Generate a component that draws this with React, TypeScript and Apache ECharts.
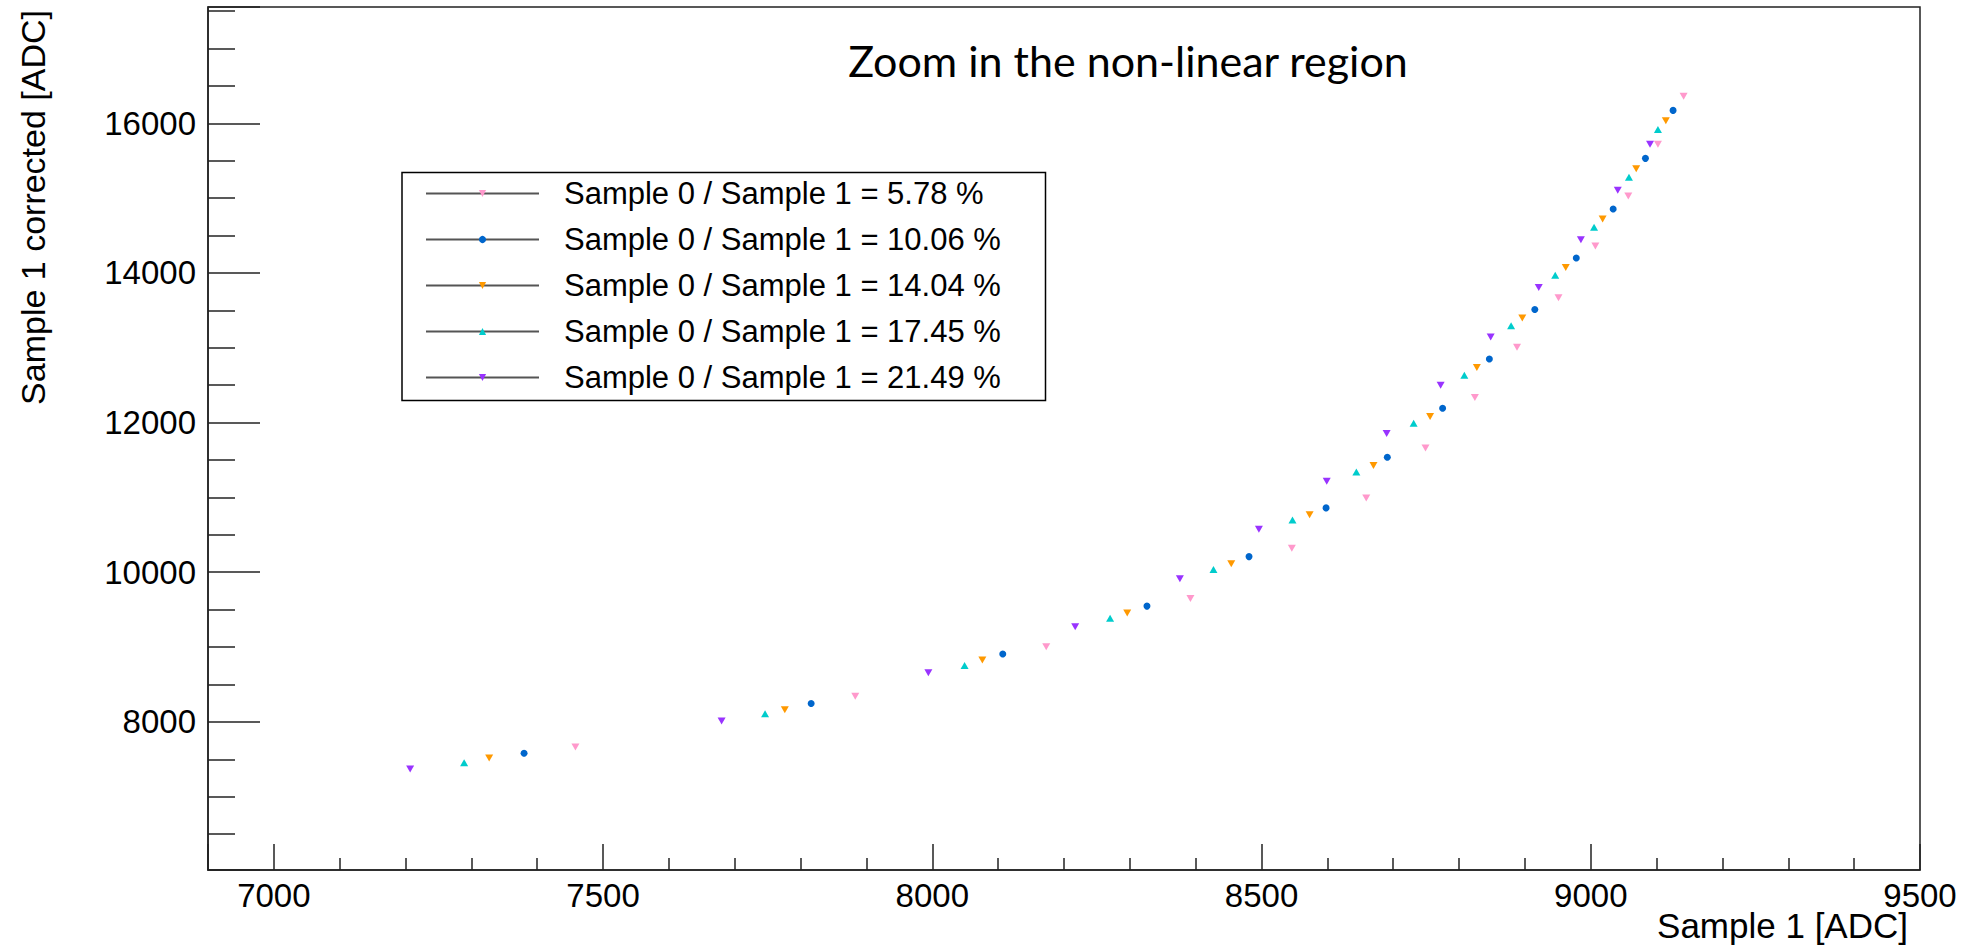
import React, { useEffect, useRef } from "react";
import * as echarts from "echarts";

// Legend entries and marker colours, one per ratio
const seriesNames = [
  "Sample 0 / Sample 1 = 5.78 %",
  "Sample 0 / Sample 1 = 10.06 %",
  "Sample 0 / Sample 1 = 14.04 %",
  "Sample 0 / Sample 1 = 17.45 %",
  "Sample 0 / Sample 1 = 21.49 %",
];
const seriesColors = ["#ff99cc", "#0066cc", "#ff9900", "#00cccc", "#9933ff"];

// Sample 1 [ADC] (x) and corrected Sample 1 [ADC] (y) for each ratio
const ratio578X = [7458, 7883, 8173, 8392, 8546, 8659, 8749, 8824, 8888, 8951, 9007, 9057, 9102, 9141];
const ratio578Y = [7665, 8344, 9003, 9649, 10321, 10993, 11660, 12334, 13008, 13670, 14360, 15030, 15720, 16362];

const ratio1006X = [7380, 7816, 8107, 8326, 8481, 8598, 8691, 8775, 8846, 8915, 8978, 9034, 9083, 9125];
const ratio1006Y = [7580, 8246, 8906, 9547, 10209, 10860, 11537, 12193, 12851, 13511, 14200, 14855, 15532, 16173];

const ratio1404X = [7327, 7776, 8076, 8296, 8454, 8573, 8670, 8756, 8827, 8896, 8962, 9018, 9069, 9114];
const ratio1404Y = [7518, 8161, 8828, 9456, 10112, 10769, 11425, 12081, 12737, 13397, 14074, 14723, 15392, 16033];

const ratio1745X = [7289, 7746, 8049, 8270, 8427, 8547, 8644, 8731, 8808, 8879, 8946, 9005, 9058, 9102];
const ratio1745Y = [7455, 8107, 8754, 9384, 10036, 10697, 11339, 11993, 12634, 13296, 13970, 14612, 15281, 15916];

const ratio2149X = [7207, 7680, 7994, 8217, 8376, 8496, 8599, 8690, 8772, 8848, 8921, 8985, 9041, 9090];
const ratio2149Y = [7371, 8013, 8656, 9272, 9914, 10575, 11216, 11855, 12499, 13143, 13805, 14443, 15107, 15720];

const allX = [ratio578X, ratio1006X, ratio1404X, ratio1745X, ratio2149X];
const allY = [ratio578Y, ratio1006Y, ratio1404Y, ratio1745Y, ratio2149Y];

// Axis ranges
const xRange = [6900, 9500];
const yRange = [6020, 17555];

const TRI_DOWN = "path://M0,0L10,0L5,9Z";
const TRI_UP = "path://M5,0L10,9L0,9Z";
const markerShapes = [TRI_DOWN, "circle", TRI_DOWN, TRI_UP, TRI_DOWN];
const markerSizes: (number | number[])[] = [[8, 7], 7, [8, 7], [8, 7], [8, 7]];

const LABEL_FONT = "'Liberation Sans', Arial, Helvetica, sans-serif";
const AXIS_COLOR = "#222";

// Plain integers, no thousands separators
const plainNumber = (v: number) => String(Math.round(v));

export default function App() {
  const ref = useRef<HTMLDivElement>(null);

  useEffect(() => {
    if (!ref.current) return;
    const chart = echarts.init(ref.current, null, { renderer: "svg" });

    const series = seriesNames.map((name, i) => ({
      type: "line",
      name,
      data: allX[i].map((x, j) => [x, allY[i][j]]),
      symbol: markerShapes[i],
      symbolSize: markerSizes[i],
      showSymbol: true,
      showAllSymbol: true,
      lineStyle: { width: 0, opacity: 0 },
      itemStyle: { color: seriesColors[i], borderWidth: 0 },
      emphasis: { disabled: true },
      silent: true,
      z: 3,
    }));

    const option = {
      animation: false,
      backgroundColor: "#ffffff",
      grid: {
        left: 208,
        right: 54,
        top: 7,
        bottom: 79,
        show: true,
        borderColor: AXIS_COLOR,
        borderWidth: 1.5,
        backgroundColor: "transparent",
        containLabel: false,
        outerBoundsMode: "none",
      },
      xAxis: {
        type: "value",
        min: xRange[0],
        max: xRange[1],
        splitNumber: 5,
        axisLine: { show: true, lineStyle: { color: AXIS_COLOR, width: 1.5 } },
        axisTick: { show: true, inside: true, length: 26, lineStyle: { color: AXIS_COLOR, width: 1.5 } },
        minorTick: { show: true, splitNumber: 5, length: 12, lineStyle: { color: AXIS_COLOR, width: 1.5 } },
        splitLine: { show: false },
        minorSplitLine: { show: false },
        axisLabel: {
          showMinLabel: false,
          margin: 9,
          fontSize: 33,
          lineHeight: 33,
          fontFamily: LABEL_FONT,
          color: "#000",
          formatter: plainNumber,
        },
      },
      yAxis: {
        type: "value",
        min: yRange[0],
        max: yRange[1],
        splitNumber: 5,
        axisLine: { show: true, lineStyle: { color: AXIS_COLOR, width: 1.5 } },
        axisTick: { show: true, inside: true, length: 52, lineStyle: { color: AXIS_COLOR, width: 1.5 } },
        minorTick: { show: true, splitNumber: 4, length: 27, lineStyle: { color: AXIS_COLOR, width: 1.5 } },
        splitLine: { show: false },
        minorSplitLine: { show: false },
        axisLabel: {
          showMinLabel: false,
          showMaxLabel: false,
          margin: 12,
          fontSize: 33,
          fontFamily: LABEL_FONT,
          color: "#000",
          formatter: plainNumber,
        },
      },
      legend: {
        orient: "vertical",
        left: 425,
        top: 178,
        padding: 0,
        itemWidth: 113,
        itemHeight: 9,
        itemGap: 15,
        selectedMode: false,
        data: seriesNames,
        lineStyle: { color: "#555", width: 2, opacity: 1, type: "solid" },
        itemStyle: { borderWidth: 0 },
        textStyle: {
          fontFamily: LABEL_FONT,
          fontSize: 31,
          lineHeight: 31,
          color: "#000",
          padding: [0, 0, 0, 20],
        },
      },
      graphic: [
        {
          type: "rect",
          shape: { x: 402, y: 172.5, width: 643.5, height: 228 },
          style: { fill: "none", stroke: "#000", lineWidth: 1.5 },
          z: 1,
          silent: true,
        },
        {
          type: "text",
          x: 1128,
          y: 60,
          style: {
            text: "Zoom in the non-linear region",
            fontFamily: "Lato, 'Open Sans', sans-serif",
            fontSize: 43,
            fill: "#000",
            align: "center",
            verticalAlign: "middle",
          },
          silent: true,
        },
        {
          type: "text",
          x: 1908,
          y: 925,
          style: {
            text: "Sample 1 [ADC]",
            fontFamily: LABEL_FONT,
            fontSize: 35,
            fill: "#000",
            align: "right",
            verticalAlign: "middle",
          },
          silent: true,
        },
        {
          type: "text",
          x: 33,
          y: 10,
          rotation: Math.PI / 2,
          style: {
            text: "Sample 1 corrected [ADC]",
            fontFamily: LABEL_FONT,
            fontSize: 34,
            fill: "#000",
            align: "right",
            verticalAlign: "middle",
          },
          silent: true,
        },
      ],
      series,
    };

    chart.setOption(option as any);
    return () => chart.dispose();
  }, []);

  return (
    <div
      ref={ref}
      style={{ position: "fixed", left: 0, top: 0, width: 1974, height: 949, background: "#fff" }}
    />
  );
}
